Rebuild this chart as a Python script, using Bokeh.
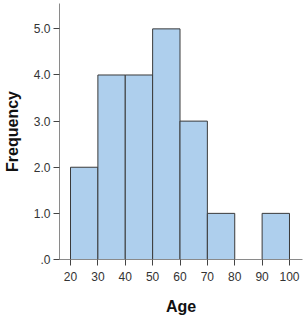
from bokeh.plotting import figure
from bokeh.models import FixedTicker, NumeralTickFormatter, ColumnDataSource, Range1d
from bokeh.embed import file_html
from bokeh.resources import INLINE

# Data
bin_left = [20, 30, 40, 50, 60, 70, 80, 90]
bin_right = [30, 40, 50, 60, 70, 80, 90, 100]
counts = [2, 4, 4, 5, 3, 1, 0, 1]
x_ticks = [20, 30, 40, 50, 60, 70, 80, 90, 100]
y_ticks = [0, 1, 2, 3, 4, 5]
x_title = "Age"
y_title = "Frequency"

keep = [i for i, c in enumerate(counts) if c > 0]
src = ColumnDataSource(dict(
    left=[bin_left[i] for i in keep],
    right=[bin_right[i] for i in keep],
    top=[counts[i] for i in keep],
    bottom=[0 for _ in keep],
))

p = figure(width=307, height=317, output_backend="svg", toolbar_location=None,
           x_range=Range1d(15.98, 104.75), y_range=Range1d(0, 5.55),
           min_border_left=59, min_border_right=5, min_border_top=3, min_border_bottom=53)
p.outline_line_color = None
p.xgrid.visible = False
p.ygrid.visible = False
p.background_fill_color = "white"
p.border_fill_color = "white"

p.quad(left="left", right="right", top="top", bottom="bottom", source=src,
       fill_color="#aecfed", line_color="#3a3a3a", line_width=1)

for ax in (p.xaxis[0], p.yaxis[0]):
    ax.axis_line_color = "#8a8a8a"
    ax.axis_line_width = 1
    ax.major_tick_line_color = "#444444"
    ax.major_tick_out = 6
    ax.major_tick_in = 0
    ax.minor_tick_out = 0
    ax.minor_tick_in = 0
    ax.major_label_text_font = "Liberation Sans"
    ax.major_label_text_font_size = "12px"
    ax.major_label_text_color = "#333333"
    ax.axis_label_text_font = "Liberation Sans"
    ax.axis_label_text_font_style = "bold"
    ax.axis_label_text_font_size = "16px"
    ax.axis_label_text_color = "#111111"

p.xaxis.ticker = FixedTicker(ticks=x_ticks)
p.yaxis.ticker = FixedTicker(ticks=y_ticks)
p.yaxis.formatter = NumeralTickFormatter(format="0.0")
p.yaxis.major_label_overrides = {0: ".0"}
p.xaxis.axis_label = x_title
p.yaxis.axis_label = y_title
p.xaxis.major_label_standoff = 6
p.yaxis.major_label_standoff = 3
p.xaxis.axis_label_standoff = 14
p.yaxis.axis_label_standoff = 10

open("out.html", "w").write(file_html(p, INLINE))
